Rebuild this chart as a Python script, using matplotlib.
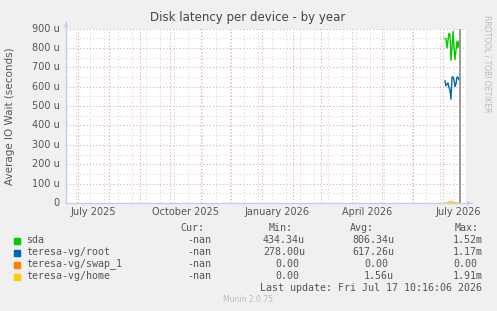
import matplotlib
matplotlib.use("Agg")
import matplotlib.pyplot as plt
import matplotlib.dates as mdates
import pandas as pd

# --- data (values in microseconds) ---
days = pd.date_range("2026-07-03", "2026-07-17", freq="D")
sda = [850, 845, 800, 840, 875, 870, 735, 800, 885, 800, 740, 790, 835, 800, 835]
root = [630, 605, 612, 620, 595, 584, 535, 650, 650, 636, 600, 615, 650, 648, 636]
swap = [0, 0, 0, 0, 0, 0, 0, 0, 0, 0, 0, 0, 0, 0, 0]
home = [0, 0, 0, 0, 6, 9, 4, 7, 8, 3, 0, 0, 0, 0, 0]

series_names = ["sda", "teresa-vg/root", "teresa-vg/swap_1", "teresa-vg/home"]
series_colors = ["#00cc00", "#0066b3", "#ff8000", "#ffcc00"]
cur_vals = ["-nan", "-nan", "-nan", "-nan"]
min_vals = ["434.34u", "278.00u", "0.00", "0.00"]
avg_vals = ["806.34u", "617.26u", "0.00", "1.56u"]
max_vals = ["1.52m", "1.17m", "0.00", "1.91m"]

month_labels = ["July 2025", "October 2025", "January 2026", "April 2026", "July 2026"]
label_dates = ["2025-07-16", "2025-10-16", "2026-01-16", "2026-04-16", "2026-07-16"]

W, H = 497, 311
TXT = "#555555"
MONO = "DejaVu Sans Mono"

fig = plt.figure(figsize=(W / 100, H / 100), dpi=100)
fig.patch.set_facecolor("#f0f0f0")

x0, x1, ytop, ybot = 66, 466, 28.5, 203
ax = fig.add_axes([x0 / W, 1 - ybot / H, (x1 - x0) / W, (ybot - ytop) / H])
ax.set_facecolor("white")

t0 = mdates.date2num(pd.Timestamp("2025-06-19"))
ax.set_xlim(t0, t0 + 400)
ax.set_ylim(0, 900)

# grid: minor gray, major red
for d in pd.date_range("2025-06-29", "2026-07-24", freq="14D"):
    ax.axvline(mdates.date2num(d), color="#d8d8d8", lw=0.8, ls=(0, (1, 2)), zorder=1)
for v in range(50, 900, 100):
    ax.axhline(v, color="#d8d8d8", lw=0.8, ls=(0, (1, 2)), zorder=1)
for d in pd.date_range("2025-07-01", "2026-07-01", freq="MS"):
    ax.axvline(mdates.date2num(d), color="#e8a8a8", lw=0.8, ls=(0, (1, 2)), zorder=1)
for v in range(100, 901, 100):
    ax.axhline(v, color="#e8a8a8", lw=0.8, ls=(0, (1, 2)), zorder=1)

xd = mdates.date2num(days)
for vals, c in zip([sda, root, swap, home], series_colors):
    ax.plot(xd, vals, color=c, lw=1.0, zorder=3)

ax.axvline(mdates.date2num(pd.Timestamp("2026-07-18")), color="#888888", lw=1.2, zorder=4)

for s in ax.spines.values():
    s.set_visible(False)
ax.set_xticks([])
ax.set_yticks([])

# axes with arrows
axis_c = "#c8c8f0"
fig.add_artist(plt.Line2D([x0 / W, 472 / W], [1 - ybot / H] * 2, color=axis_c, lw=1))
fig.add_artist(plt.Line2D([x0 / W] * 2, [1 - ybot / H, 1 - 22 / H], color=axis_c, lw=1))
ax.annotate("", xy=(474 / W, 1 - ybot / H), xytext=(468 / W, 1 - ybot / H),
            xycoords="figure fraction",
            arrowprops=dict(arrowstyle="-|>", color=axis_c, lw=0.5, mutation_scale=6))
ax.annotate("", xy=(x0 / W, 1 - 20 / H), xytext=(x0 / W, 1 - 26 / H),
            xycoords="figure fraction",
            arrowprops=dict(arrowstyle="-|>", color=axis_c, lw=0.5, mutation_scale=6))

# y tick labels
for v in range(0, 901, 100):
    lab = "0" if v == 0 else f"{v} u"
    ax.text(-0.015, v, lab, transform=ax.get_yaxis_transform(), ha="right",
            va="center", fontsize=7, color=TXT)

# x labels
for lab, d in zip(month_labels, label_dates):
    ax.text(mdates.date2num(pd.Timestamp(d)), -0.025, lab,
            transform=ax.get_xaxis_transform(), ha="center", va="top",
            fontsize=7, color=TXT)

fig.text(248 / W, 1 - 18 / H, "Disk latency per device - by year", ha="center",
         va="center", fontsize=8.5, color="#444444")
fig.text(10 / W, 1 - 116 / H, "Average IO Wait (seconds)", rotation=90,
         ha="center", va="center", fontsize=7.5, color=TXT)
fig.text(487 / W, 1 - 15 / H, "RRDTOOL / TOBI OETIKER", rotation=270,
         ha="center", va="top", fontsize=5.5, color="#bbbbbb")

# legend
def put(x, y, s, ha="right"):
    fig.text(x / W, 1 - y / H, s, ha=ha, va="center", fontsize=7.2,
             family=MONO, color=TXT)

def put_val(xend, y, s):
    # unitless values leave room for the suffix column
    put(xend if s[-1].isalpha() and s != "-nan" else xend - 6, y, s)

put(204, 228, "Cur:")
put(293, 228, "Min:")
put(374, 228, "Avg:")
put(479, 228, "Max:")
rows_y = [240, 252, 264, 276]
for i, y in enumerate(rows_y):
    fig.patches.append(plt.Rectangle((14 / W, 1 - (y + 3.5) / H), 6 / W, 6 / H,
                                     transform=fig.transFigure, color=series_colors[i]))
    put(26, y, series_names[i], ha="left")
    put(211, y, cur_vals[i])
    put_val(305, y, min_vals[i])
    put_val(394, y, avg_vals[i])
    put_val(483, y, max_vals[i])

put(482, 288, "Last update: Fri Jul 17 10:16:06 2026")
fig.text(248 / W, 1 - 300 / H, "Munin 2.0.75", ha="center", va="center",
         fontsize=5.5, color="#bbbbbb")

fig.savefig("out.png", dpi=100, facecolor=fig.get_facecolor())
